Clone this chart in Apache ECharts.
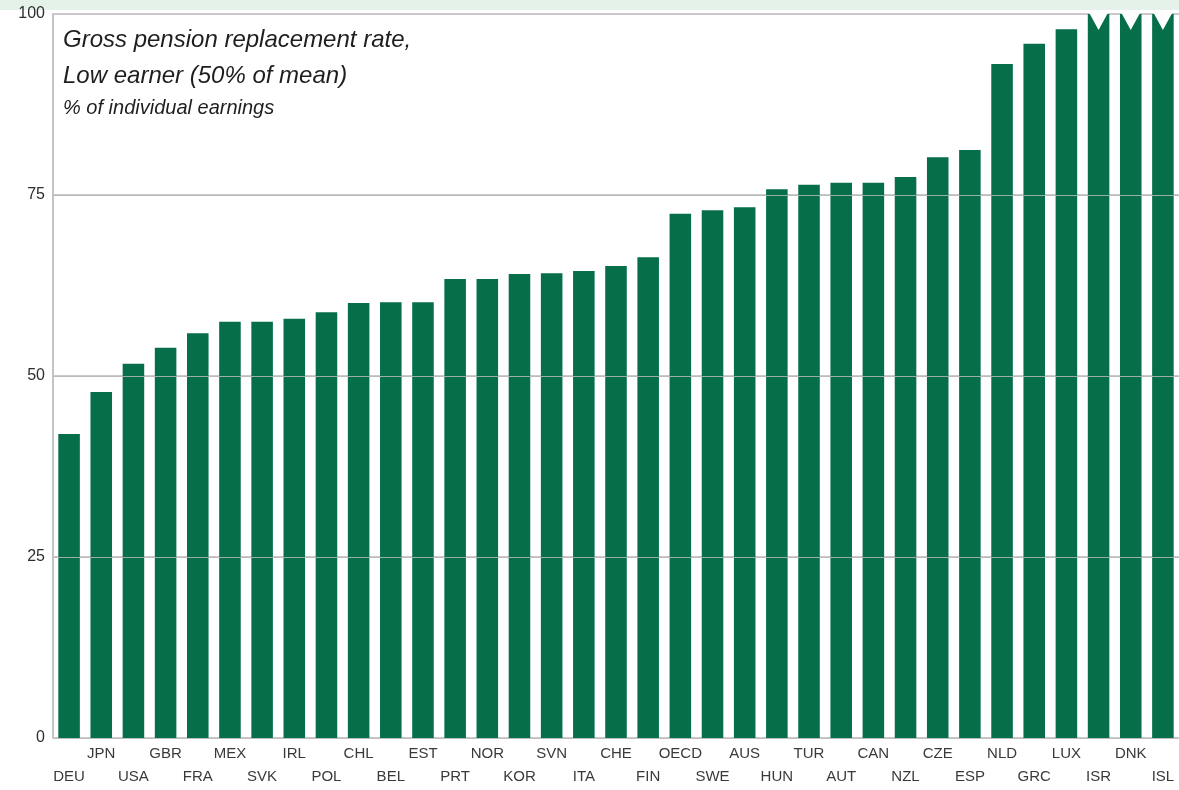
<!DOCTYPE html>
<html>
<head>
<meta charset="utf-8">
<title>Gross pension replacement rate, low earner</title>
<script src="https://cdn.jsdelivr.net/npm/echarts@6/dist/echarts.min.js"></script>
<style>
  html, body { margin: 0; padding: 0; background: #ffffff; }
  #chart { width: 1179px; height: 790px; }
</style>
</head>
<body>
<div id="chart"></div>
<script>
// Country codes, ordered from lowest to highest replacement rate
const countries = ['DEU','JPN','USA','GBR','FRA','MEX','SVK','IRL','POL','CHL','BEL','EST',
  'PRT','NOR','KOR','SVN','ITA','CHE','FIN','OECD','SWE','AUS','HUN','TUR','AUT','CAN',
  'NZL','CZE','ESP','NLD','GRC','LUX','ISR','DNK','ISL'];

// Gross replacement rate, % of individual earnings (values above 100 are cut at the axis top)
const rates = [42.0, 47.8, 51.7, 53.9, 55.9, 57.5, 57.5, 57.9, 58.8, 60.1, 60.2, 60.2,
  63.4, 63.4, 64.1, 64.2, 64.5, 65.2, 66.4, 72.4, 72.9, 73.3, 75.8, 76.4, 76.7, 76.7,
  77.5, 80.2, 81.2, 93.1, 95.9, 97.9, 105.0, 106.0, 108.0];

const yTicks = [0, 25, 50, 75, 100];
const yMax = 100;

const titleLines = ['Gross pension replacement rate,', 'Low earner (50% of mean)'];
const subtitle = '% of individual earnings';

const barColor = '#066f49';
const gridColor = '#b9b9b9';

// Bars taller than the axis get a V-shaped break marker at the top
const brokenBars = rates
  .map((v, i) => [i, v])
  .filter(d => d[1] > yMax);

const chart = echarts.init(document.getElementById('chart'), null, { renderer: 'canvas' });

chart.setOption({
  animation: false,
  backgroundColor: '#ffffff',
  textStyle: { fontFamily: 'Liberation Sans, Arial, sans-serif' },
  graphic: [
    {
      type: 'rect',
      left: 0, top: 0,
      shape: { width: 1179, height: 10 },
      style: { fill: '#e4f2ea' },
      silent: true, z: -1
    },
    {
      type: 'text',
      left: 63, top: 22,
      style: {
        text: titleLines.join('\n'),
        font: 'italic 24px "Liberation Sans", Arial, sans-serif',
        lineHeight: 36,
        fill: '#1e1e1e'
      },
      z: 10
    },
    {
      type: 'text',
      left: 63, top: 98,
      style: {
        text: subtitle,
        font: 'italic 20px "Liberation Sans", Arial, sans-serif',
        fill: '#1e1e1e'
      },
      z: 10
    }
  ],
  grid: { left: 53, right: 0, top: 14, bottom: 52, containLabel: false },
  xAxis: {
    type: 'category',
    data: countries,
    axisLine: { show: true, lineStyle: { color: '#cfe3d8', width: 1 } },
    axisTick: { show: false },
    axisLabel: {
      interval: 0,
      margin: 4,
      color: '#3a3a3a',
      fontSize: 15,
      lineHeight: 23,
      formatter: (name, idx) => (idx % 2 === 0 ? '\n' + name : name)
    },
    splitLine: { show: false }
  },
  yAxis: {
    type: 'value',
    min: 0,
    max: yMax,
    interval: 25,
    axisLine: { show: true, lineStyle: { color: '#c4c4c4', width: 2 } },
    axisTick: { show: false },
    axisLabel: {
      margin: 8,
      color: '#2e2e2e',
      fontSize: 16,
      formatter: v => (yTicks.includes(v) ? String(v) : '')
    },
    splitLine: { show: true, lineStyle: { color: gridColor, width: 1.5 } }
  },
  series: [
    {
      type: 'bar',
      data: rates.map(v => Math.min(v, yMax)),
      barWidth: '67%',
      itemStyle: { color: barColor },
      z: 2,
      markLine: {
        silent: true,
        symbol: 'none',
        label: { show: false },
        lineStyle: { color: gridColor, width: 1.2, type: 'solid', opacity: 0.85 },
        data: [{ yAxis: 0 }, { yAxis: 25 }, { yAxis: 50 }, { yAxis: 75 }],
        z: 5
      }
    },
    {
      // white V notch cut into the top of bars that run off the scale
      type: 'custom',
      data: brokenBars,
      z: 6,
      silent: true,
      renderItem: (params, api) => {
        const idx = api.value(0);
        const top = api.coord([idx, yMax]);
        const band = api.size([1, 0])[0];
        const half = band * 0.67 / 2;
        const inset = 1.5;
        return {
          type: 'polygon',
          shape: {
            points: [
              [top[0] - half + inset, top[1] - 1],
              [top[0], top[1] + 16],
              [top[0] + half - inset, top[1] - 1]
            ]
          },
          style: { fill: '#ffffff' }
        };
      }
    }
  ]
});
</script>
</body>
</html>
